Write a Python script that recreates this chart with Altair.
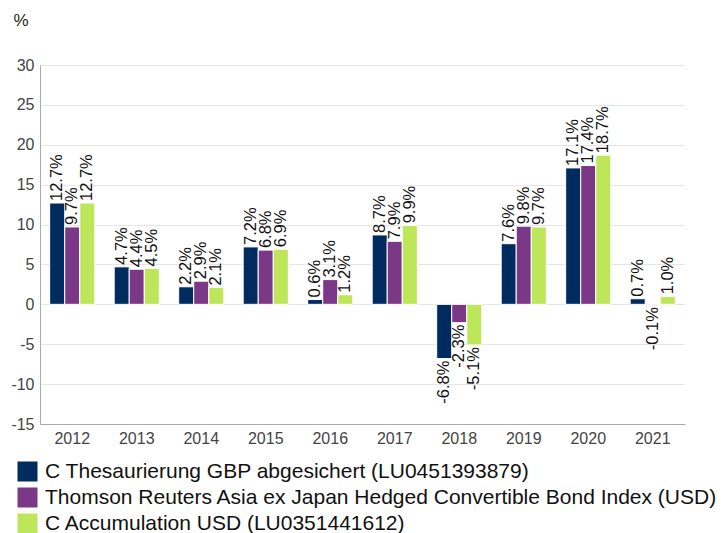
import altair as alt
import pandas as pd

years = ["2012", "2013", "2014", "2015", "2016", "2017", "2018", "2019", "2020", "2021"]
series = [
    "C Thesaurierung GBP abgesichert (LU0451393879)",
    "Thomson Reuters Asia ex Japan Hedged Convertible Bond Index (USD)",
    "C Accumulation USD (LU0351441612)",
]
fund_gbp = [12.7, 4.7, 2.2, 7.2, 0.6, 8.7, -6.8, 7.6, 17.1, 0.7]
index_usd = [9.7, 4.4, 2.9, 6.8, 3.1, 7.9, -2.3, 9.8, 17.4, -0.1]
fund_usd = [12.7, 4.5, 2.1, 6.9, 1.2, 9.9, -5.1, 9.7, 18.7, 1.0]
y_ticks = [-15, -10, -5, 0, 5, 10, 15, 20, 25, 30]
colors = ["#002b5f", "#7b3886", "#bde65b"]

rows = []
for vals, s in zip([fund_gbp, index_usd, fund_usd], series):
    for y, v in zip(years, vals):
        rows.append({"year": y, "series": s, "value": v})
df = pd.DataFrame(rows)

FONT = "Liberation Sans"

base = alt.Chart(df).transform_calculate(
    label="replace(format(datum.value, '.1f'), '\u2212', '-') + '%'"
)

x = alt.X("year:N", title=None, sort=years,
          scale=alt.Scale(paddingInner=0.3, paddingOuter=0.15),
          axis=alt.Axis(labelAngle=0, ticks=False, labelFontSize=16, labelColor="#444444",
                        labelFont=FONT, domainColor="#aaaaaa", labelPadding=6))
xo = alt.XOffset("series:N", sort=series)
y_enc = alt.Y("value:Q", title="%", scale=alt.Scale(domain=[-15, 30], nice=False, zero=False),
              axis=alt.Axis(values=y_ticks, ticks=False, labelFontSize=16, labelOverlap=False,
                            labelExpr="replace(datum.label, '\u2212', '-')",
                            labelColor="#444444", labelFont=FONT, labelPadding=6,
                            domainColor="#aaaaaa", gridColor="#e6e6e6",
                            titleAngle=0, titleX=-27, titleY=-53, titleFont=FONT,
                            titleFontSize=17, titleFontWeight="normal", titleColor="#222222",
                            titleAlign="left", titleBaseline="top"))

bars = base.mark_bar(stroke="white", strokeWidth=1).encode(
    x=x, xOffset=xo, y=y_enc,
    color=alt.Color("series:N", sort=series,
                    scale=alt.Scale(domain=series, range=colors),
                    legend=alt.Legend(title=None, orient="none", legendX=-23, legendY=396,
                                      direction="vertical", symbolType="square",
                                      symbolSize=400, symbolStrokeWidth=0,
                                      labelFontSize=21, labelFont=FONT, labelColor="#111111",
                                      labelLimit=900, rowPadding=4, symbolOffset=0,
                                      labelOffset=7)),
)

pos = base.transform_filter("datum.value >= 0").mark_text(
    angle=270, align="left", baseline="middle", dx=2, fontSize=16.5, font=FONT, color="#111111"
).encode(x=x, xOffset=xo, y=y_enc, text="label:N")

neg = base.transform_filter("datum.value < 0").mark_text(
    angle=270, align="right", baseline="middle", dx=-2, fontSize=16.5, font=FONT, color="#111111"
).encode(x=x, xOffset=xo, y=y_enc, text="label:N")

chart = alt.layer(bars, pos, neg).properties(
    width=645, height=359,
    autosize=alt.AutoSizeParams(type="none"),
    padding={"left": 32, "top": 57, "right": 34, "bottom": 110},
).configure_view(stroke=None)

chart.save("out.html", embed_options={"renderer": "svg", "actions": False})
